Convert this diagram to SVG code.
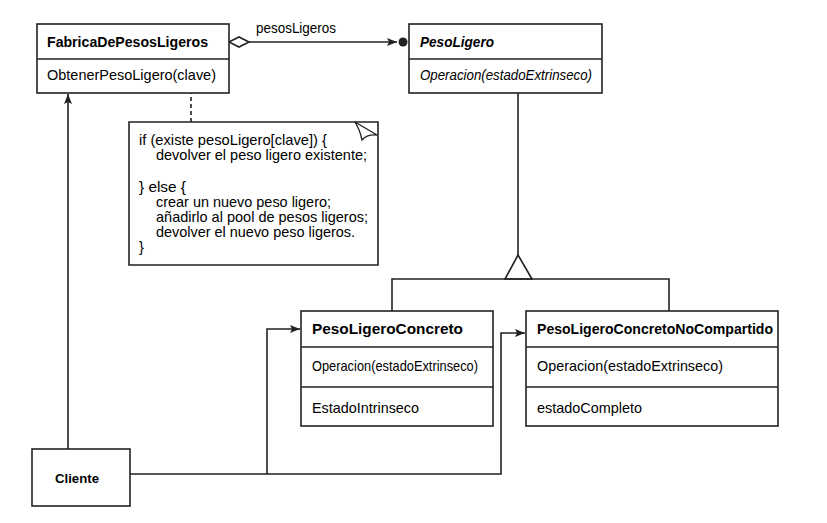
<svg xmlns="http://www.w3.org/2000/svg" width="827" height="523" viewBox="0 0 827 523">
<style>
.box{fill:#fff;stroke:#222;stroke-width:1.6}
.ln{fill:none;stroke:#222;stroke-width:1.6}
text{font-family:"Liberation Sans",Arial,sans-serif;fill:#000}
.t{font-size:15px;font-weight:bold}
.m{font-size:14.5px}
.n{font-size:14.5px}
</style>
<defs>
<marker id="arr" viewBox="0 0 10 8" refX="10" refY="4" markerWidth="10" markerHeight="8" markerUnits="userSpaceOnUse" orient="auto">
<path d="M0,0 L10,4 L0,8 L2,4 Z" fill="#222"/>
</marker>
</defs>
<rect width="827" height="523" fill="#fff"/>
<g id="connectors">
<line class="ln" x1="249" y1="42" x2="397" y2="42" marker-end="url(#arr)"/>
<path d="M229,42 L239,37 L249,42 L239,47 Z" fill="#fff" stroke="#222" stroke-width="1.6"/>
<circle cx="403" cy="42" r="4.5" fill="#222"/>
<text x="256" y="33" class="n" font-size="13.5px" textLength="80" lengthAdjust="spacingAndGlyphs">pesosLigeros</text>
<line class="ln" x1="191" y1="90" x2="191" y2="122" stroke-dasharray="4,3" stroke-width="2"/>
<circle cx="191" cy="87" r="3" fill="#fff" stroke="#222" stroke-width="1.5"/>
<line class="ln" x1="518" y1="93" x2="518" y2="255"/>
<path d="M518,255 L532,279 L505,279 Z" fill="#fff" stroke="#222" stroke-width="1.6"/>
<polyline class="ln" points="392,311 392,279 669,279 669,311"/>
<line class="ln" x1="68" y1="449" x2="68" y2="94" marker-end="url(#arr)"/>
<polyline class="ln" points="130,474 267,474 267,329 300,329" marker-end="url(#arr)"/>
<polyline class="ln" points="267,474 501,474 501,333 525,333" marker-end="url(#arr)"/>
</g>
<g id="FabricaDePesosLigeros">
<rect class="box" x="37" y="24" width="192" height="69"/>
<line class="ln" x1="37" y1="59" x2="229" y2="59"/>
<text x="47" y="47" class="t" textLength="161" lengthAdjust="spacingAndGlyphs">FabricaDePesosLigeros</text>
<text x="47" y="80" class="m" textLength="169" lengthAdjust="spacingAndGlyphs">ObtenerPesoLigero(clave)</text>
</g>
<g id="PesoLigero">
<rect class="box" x="409" y="24" width="193" height="69"/>
<line class="ln" x1="409" y1="59" x2="602" y2="59"/>
<text x="420" y="47" class="t" font-style="italic" textLength="74" lengthAdjust="spacingAndGlyphs">PesoLigero</text>
<text x="420" y="80" class="m" font-style="italic" textLength="172" lengthAdjust="spacingAndGlyphs">Operacion(estadoExtrinseco)</text>
</g>
<g id="nota">
<path d="M129,122 L378,122 L378,265 L129,265 Z" fill="#fff" stroke="#222" stroke-width="1.6"/>
<path d="M355,122 L377,135 Q367,134 362,140 Q360,130 355,122 Z" fill="#fff" stroke="#222" stroke-width="1.4" stroke-linejoin="round"/>
<text class="n" x="139" y="145" textLength="188" lengthAdjust="spacingAndGlyphs">if (existe pesoLigero[clave]) {</text>
<text class="n" x="156" y="160" textLength="211" lengthAdjust="spacingAndGlyphs">devolver el peso ligero existente;</text>
<text class="n" x="139" y="192" textLength="47" lengthAdjust="spacingAndGlyphs">} else {</text>
<text class="n" x="156" y="207" textLength="175" lengthAdjust="spacingAndGlyphs">crear un nuevo peso ligero;</text>
<text class="n" x="156" y="222" textLength="212" lengthAdjust="spacingAndGlyphs">añadirlo al pool de pesos ligeros;</text>
<text class="n" x="156" y="237" textLength="199" lengthAdjust="spacingAndGlyphs">devolver el nuevo peso ligeros.</text>
<text class="n" x="139" y="252">}</text>
</g>
<g id="PesoLigeroConcreto">
<rect class="box" x="301" y="311" width="192" height="115"/>
<line class="ln" x1="301" y1="347" x2="493" y2="347"/>
<line class="ln" x1="301" y1="387" x2="493" y2="387"/>
<text x="312" y="334" class="t" textLength="151" lengthAdjust="spacingAndGlyphs">PesoLigeroConcreto</text>
<text x="312" y="371" class="m" textLength="166" lengthAdjust="spacingAndGlyphs">Operacion(estadoExtrinseco)</text>
<text x="312" y="413" class="m" textLength="107" lengthAdjust="spacingAndGlyphs">EstadoIntrinseco</text>
</g>
<g id="PesoLigeroConcretoNoCompartido">
<rect class="box" x="526" y="311" width="252" height="115"/>
<line class="ln" x1="526" y1="347" x2="778" y2="347"/>
<line class="ln" x1="526" y1="387" x2="778" y2="387"/>
<text x="537" y="334" class="t" textLength="236" lengthAdjust="spacingAndGlyphs">PesoLigeroConcretoNoCompartido</text>
<text x="537" y="371" class="m" textLength="186" lengthAdjust="spacingAndGlyphs">Operacion(estadoExtrinseco)</text>
<text x="537" y="413" class="m" textLength="105" lengthAdjust="spacingAndGlyphs">estadoCompleto</text>
</g>
<g id="Cliente">
<rect class="box" x="32" y="449" width="98" height="57"/>
<text x="55" y="483" font-size="13" font-weight="bold" textLength="44" lengthAdjust="spacingAndGlyphs">Cliente</text>
</g>
</svg>
